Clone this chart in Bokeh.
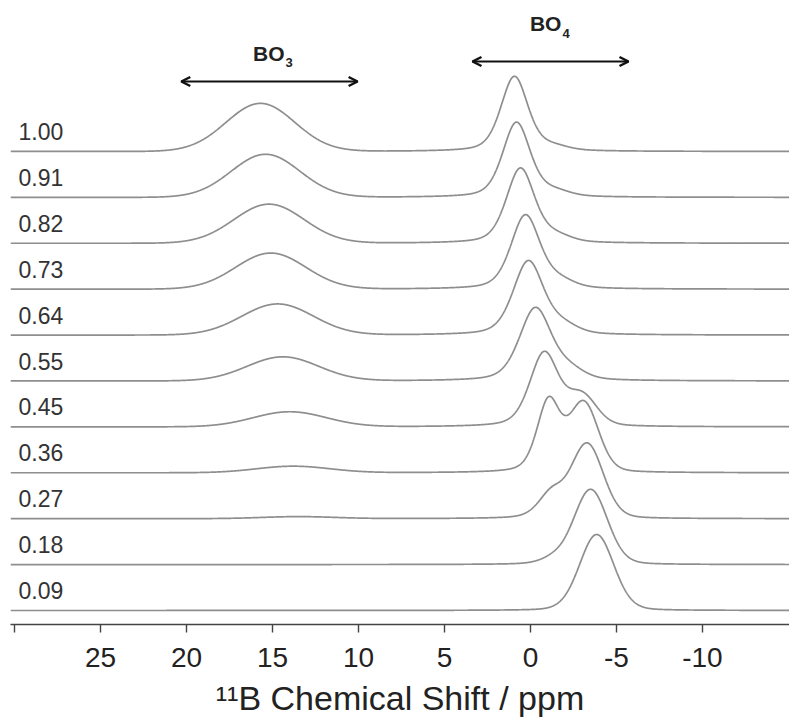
import numpy as np
from bokeh.plotting import figure
from bokeh.models import Range1d, FixedTicker, Arrow, OpenHead
from bokeh.core.properties import value
from bokeh.embed import file_html
from bokeh.resources import INLINE

# ---- data (top spectrum first) ----
fractions = ["1.00", "0.91", "0.82", "0.73", "0.64", "0.55", "0.45", "0.36", "0.27", "0.18", "0.09"]
# BO3 resonance: centre (ppm), height (a.u.), FWHM (ppm)
bo3_center = [15.7, 15.4, 15.2, 15.1, 14.7, 14.4, 14.0, 13.8, 13.5, 13.5, 13.5]
bo3_height = [48, 43, 39, 36, 31, 24, 15, 6.5, 2, 0, 0]
bo3_fwhm = [4.7, 4.7, 4.8, 4.8, 4.9, 4.9, 5.0, 5.0, 5.0, 5.0, 5.0]
# BO4 site A (near 0 ppm)
bo4a_center = [0.93, 0.81, 0.58, 0.29, 0.12, -0.29, -0.80, -1.05, -1.20, -1.30, -1.30]
bo4a_height = [75, 75, 75, 74, 74, 73, 74, 71, 24, 5, 0]
bo4a_fwhm = [1.86, 1.9, 1.95, 2.0, 2.1, 2.2, 2.0, 1.6, 1.8, 1.8, 1.8]
# BO4 site B (near -3 ppm)
bo4b_center = [-1.3, -1.4, -1.5, -1.7, -1.9, -2.3, -3.0, -3.1, -3.3, -3.5, -3.85]
bo4b_height = [4, 5, 6, 7, 8, 9, 29, 68, 74, 75, 76]
bo4b_fwhm = [2.0, 2.0, 2.0, 2.0, 2.0, 2.0, 2.0, 2.0, 2.2, 2.3, 2.35]

tick_values = [30, 25, 20, 15, 10, 5, 0, -5, -10]
tick_text = {30: "", -5: "-5", -10: "-10"}

# ---- layout constants ----
W, H = 789, 722
X_START, PX_PER_PPM = 30.23, 17.2
FRAME_LEFT, FRAME_BOTTOM_BORDER = 10, 98
X_END = X_START - (W - FRAME_LEFT) / PX_PER_PPM
Y_TOP = H - FRAME_BOTTOM_BORDER
STEP = 45.9
BASE0 = 14.0
ETA_A, ETA_B = 0.4, 0.15
LINE_COLOR = "#8e8e8e"
FONT = "Liberation Sans"

p = figure(width=W, height=H, x_range=Range1d(X_START, X_END), y_range=Range1d(0, Y_TOP),
           output_backend="svg", toolbar_location=None, y_axis_location=None,
           min_border_left=FRAME_LEFT, min_border_right=0, min_border_top=0,
           min_border_bottom=FRAME_BOTTOM_BORDER)
p.xgrid.visible = False
p.ygrid.visible = False
p.outline_line_color = None

ppm = np.linspace(X_START, X_END, 2400)


def gauss(x, c, h, w):
    return h * np.exp(-4 * np.log(2) * ((x - c) / w) ** 2)


def pvoigt(x, c, h, w, eta):
    lor = 1.0 / (1.0 + 4.0 * ((x - c) / w) ** 2)
    gau = np.exp(-4 * np.log(2) * ((x - c) / w) ** 2)
    return h * (eta * lor + (1 - eta) * gau)


n = len(fractions)
lab_x, lab_y, lab_t = [], [], []
for i in range(n):
    base = BASE0 + STEP * (n - 1 - i)
    y = (base
         + gauss(ppm, bo3_center[i], bo3_height[i], bo3_fwhm[i])
         + pvoigt(ppm, bo4a_center[i], bo4a_height[i], bo4a_fwhm[i], ETA_A)
         + pvoigt(ppm, bo4b_center[i], bo4b_height[i], bo4b_fwhm[i], ETA_B))
    p.line(ppm, y, line_color=LINE_COLOR, line_width=1.7)
    lab_x.append(X_START - 8 / PX_PER_PPM)
    lab_y.append(base + 20)
    lab_t.append(fractions[i])

p.text(x=lab_x, y=lab_y, text=lab_t, text_font=value(FONT), text_font_size="23px",
       text_color="#333333", text_align="left", text_baseline="middle")

# arrows for BO3 / BO4 regions
for xs, xe, ya in [(20.3, 10.05, 543), (3.37, -5.7, 563)]:
    p.add_layout(Arrow(start=OpenHead(size=9, line_width=2.5, line_color="#111111"),
                       end=OpenHead(size=9, line_width=2.5, line_color="#111111"),
                       x_start=xs, x_end=xe, y_start=ya, y_end=ya,
                       line_width=2.2, line_color="#111111"))

for xa, yc, ys, sub in [(14.3, 571, 562, "3"), (-1.8, 601, 591, "4")]:
    p.text(x=[xa], y=[yc], text=["BO"], text_font=value(FONT), text_font_style="bold",
           text_font_size="21px", text_color="#222222", text_align="right",
           text_baseline="middle")
    p.text(x=[xa], y=[ys], text=[sub], text_font=value(FONT), text_font_style="bold",
           text_font_size="13px", text_color="#222222", text_align="left",
           text_baseline="middle", x_offset=1)

ax = p.xaxis[0]
ax.ticker = FixedTicker(ticks=tick_values)
ax.major_label_overrides = tick_text
ax.minor_tick_line_color = None
ax.major_tick_out = 8
ax.major_tick_in = 0
ax.axis_line_width = 1.6
ax.axis_line_color = "#444444"
ax.major_tick_line_color = "#444444"
ax.major_tick_line_width = 1.4
ax.major_label_text_font = FONT
ax.major_label_text_font_size = "28px"
ax.major_label_text_color = "#222222"
ax.major_label_standoff = 15
ax.axis_label = "¹¹B Chemical Shift / ppm"
ax.axis_label_text_font = FONT
ax.axis_label_text_font_size = "34px"
ax.axis_label_text_font_style = "normal"
ax.axis_label_text_color = "#222222"
ax.axis_label_standoff = 9

open("out.html", "w").write(file_html(p, INLINE))
